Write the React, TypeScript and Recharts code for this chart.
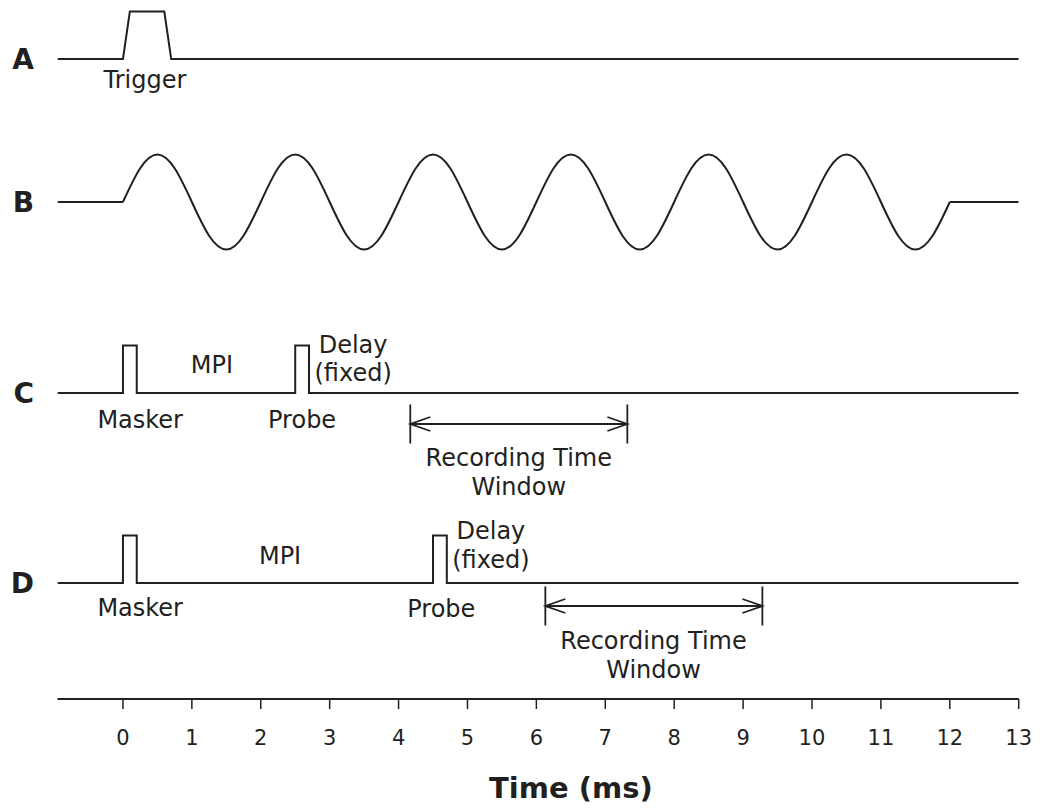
import { LineChart, Line, XAxis, YAxis, ReferenceDot } from "recharts";

// Time axis (ms)
const T_START = -0.95;
const T_END = 13;
const TIME_TICKS = [0, 1, 2, 3, 4, 5, 6, 7, 8, 9, 10, 11, 12, 13];

// A: trigger (trapezoid), level 0..1
const TRIGGER_T = [T_START, 0, 0.1, 0.6, 0.7, T_END];
const TRIGGER_V = [0, 0, 1, 1, 0, 0];

const TONE_STEP = 0.25;
const TONE_V = [
  0, 0.71, 1, 0.71, 0, -0.71, -1, -0.71,
  0, 0.71, 1, 0.71, 0, -0.71, -1, -0.71,
  0, 0.71, 1, 0.71, 0, -0.71, -1, -0.71,
  0, 0.71, 1, 0.71, 0, -0.71, -1, -0.71,
  0, 0.71, 1, 0.71, 0, -0.71, -1, -0.71,
  0, 0.71, 1, 0.71, 0, -0.71, -1, -0.71,
  0,
];
const TONE_END = 12;

// C and D: masker / probe pulses [start, end] in ms
const C_PULSES: [number, number][] = [[0, 0.2], [2.5, 2.7]];
const D_PULSES: [number, number][] = [[0, 0.2], [4.5, 4.7]];

// recording time windows [start, end] in ms
const C_WINDOW: [number, number] = [4.17, 7.32];
const D_WINDOW: [number, number] = [6.13, 9.28];

// ─── layout (pixels above the time axis) ──────────────────────────────────────
const AXIS_Y = 699;
const BASE = { A: 640, B: 497, C: 306, D: 116 };
const AMP = 47.5;
const INK = "#231f20";
const FONT = "'DejaVu Sans', 'Liberation Sans', Arial, sans-serif";

type Pt = { t: number; v: number | null };

function place(pts: Pt[], base: number): Pt[] {
  return pts.map((p) => ({ t: p.t, v: p.v == null ? null : base + p.v * AMP }));
}

function pulseTrain(pulses: [number, number][]): Pt[] {
  const out: Pt[] = [{ t: T_START, v: 0 }];
  pulses.forEach(([s, e]) => {
    out.push({ t: s, v: 0 }, { t: s, v: 1 }, { t: e, v: 1 }, { t: e, v: 0 });
  });
  out.push({ t: T_END, v: 0 });
  return out;
}

// window marker: two end bars, a shaft and open arrow heads (null = pen up)
function windowMarker([s, e]: [number, number], y: number): Pt[] {
  const bar = 19.5;
  const headT = 0.29;
  const headY = 7;
  const gap = { t: s, v: null };
  return [
    { t: s, v: y + bar }, { t: s, v: y - bar }, gap,
    { t: e, v: y + bar }, { t: e, v: y - bar }, gap,
    { t: s, v: y }, { t: e, v: y }, gap,
    { t: s + headT, v: y + headY }, { t: s, v: y }, { t: s + headT, v: y - headY }, gap,
    { t: e - headT, v: y + headY }, { t: e, v: y }, { t: e - headT, v: y - headY },
  ];
}

const traceA = place(TRIGGER_T.map((t, i) => ({ t, v: TRIGGER_V[i] })), BASE.A);
const toneFlat = place(
  [{ t: T_START, v: 0 }, { t: 0, v: 0 }, { t: 0, v: null }, { t: TONE_END, v: 0 }, { t: T_END, v: 0 }],
  BASE.B
);
const toneWave = place(TONE_V.map((v, i) => ({ t: i * TONE_STEP, v })), BASE.B);
const traceC = place(pulseTrain(C_PULSES), BASE.C);
const traceD = place(pulseTrain(D_PULSES), BASE.D);
const arrows = [
  ...windowMarker(C_WINDOW, BASE.C - 31),
  { t: 0, v: null },
  ...windowMarker(D_WINDOW, BASE.D - 23),
];

// annotation text: t in ms, dy in px below the track baseline
const LABELS = [
  { text: "Trigger", t: 0.32, base: BASE.A, dy: 21 },
  { text: "MPI", t: 1.29, base: BASE.C, dy: -28 },
  { text: "Masker", t: 0.25, base: BASE.C, dy: 27 },
  { text: "Probe", t: 2.6, base: BASE.C, dy: 27 },
  { text: "Delay", t: 3.34, base: BASE.C, dy: -48.5 },
  { text: "(fixed)", t: 3.34, base: BASE.C, dy: -20 },
  { text: "Recording Time", t: 5.745, base: BASE.C, dy: 64.5 },
  { text: "Window", t: 5.745, base: BASE.C, dy: 94 },
  { text: "MPI", t: 2.28, base: BASE.D, dy: -27 },
  { text: "Masker", t: 0.25, base: BASE.D, dy: 25 },
  { text: "Probe", t: 4.62, base: BASE.D, dy: 26 },
  { text: "Delay", t: 5.34, base: BASE.D, dy: -52 },
  { text: "(fixed)", t: 5.34, base: BASE.D, dy: -23 },
  { text: "Recording Time", t: 7.7, base: BASE.D, dy: 58 },
  { text: "Window", t: 7.7, base: BASE.D, dy: 87 },
];

const TRACK_LETTERS: Record<number, string> = {
  [BASE.A]: "A",
  [BASE.B]: "B",
  [BASE.C]: "C",
  [BASE.D]: "D",
};

function textAt(text: string, size: number, bold = false, offsetY = 0) {
  return (p: any) => (
    <text
      x={p.cx}
      y={p.cy + offsetY}
      dy="0.35em"
      textAnchor="middle"
      fontFamily={FONT}
      fontSize={size}
      fontWeight={bold ? "bold" : "normal"}
      fill={INK}
    >
      {text}
    </text>
  );
}

const lineProps = {
  dataKey: "v",
  stroke: INK,
  dot: false,
  activeDot: false,
  isAnimationActive: false,
  connectNulls: false,
} as const;

export default function App() {
  return (
    <div style={{ position: "absolute", left: 0, top: 0, background: "#fff" }}>
      <LineChart width={1042} height={812} margin={{ top: 0, right: 23.3, bottom: 0, left: 0 }}>
        <XAxis
          type="number"
          dataKey="t"
          domain={[T_START, T_END]}
          ticks={TIME_TICKS}
          interval={0}
          allowDataOverflow
          height={113}
          tickSize={10}
          tickMargin={21.5}
          axisLine={{ stroke: INK, strokeWidth: 2 }}
          tickLine={{ stroke: INK, strokeWidth: 1.5 }}
          tick={{ fontSize: 21, fill: INK, fontFamily: FONT }}
        />
        <YAxis
          type="number"
          domain={[0, AXIS_Y]}
          allowDataOverflow
          ticks={[BASE.D, BASE.C, BASE.B, BASE.A]}
          interval={0}
          width={57.5}
          tickSize={0}
          tickMargin={23.5}
          axisLine={false}
          tickLine={false}
          tickFormatter={(v: number) => TRACK_LETTERS[v] ?? ""}
          tick={{ fontSize: 28, fontWeight: "bold", fill: INK, fontFamily: FONT }}
        />
        <Line {...lineProps} data={traceA} type="linear" strokeWidth={2} />
        <Line {...lineProps} data={toneFlat} type="linear" strokeWidth={2} />
        <Line {...lineProps} data={toneWave} type="natural" strokeWidth={2} />
        <Line {...lineProps} data={traceC} type="linear" strokeWidth={2} />
        <Line {...lineProps} data={traceD} type="linear" strokeWidth={2} />
        <Line {...lineProps} data={arrows} type="linear" strokeWidth={1.8} />
        {LABELS.map((l, i) => (
          <ReferenceDot
            key={i}
            x={l.t}
            y={l.base - l.dy}
            r={0}
            ifOverflow="visible"
            shape={textAt(l.text, 24)}
          />
        ))}
        <ReferenceDot x={6.5} y={0} r={0} ifOverflow="visible" shape={textAt("Time (ms)", 29, true, 88.5)} />
      </LineChart>
    </div>
  );
}
